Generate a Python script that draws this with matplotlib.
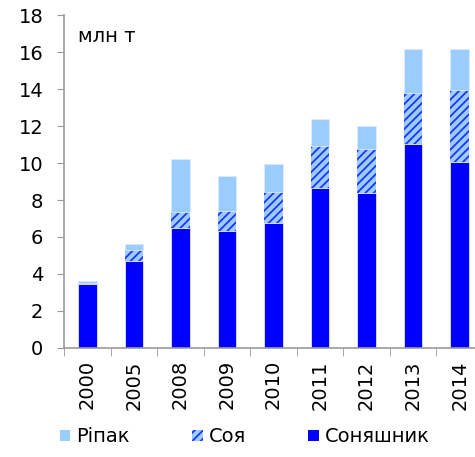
import numpy as np
import matplotlib.pyplot as plt
from matplotlib.patches import Patch

plt.rcParams['font.family'] = ['DejaVu Sans']
plt.rcParams['hatch.color'] = '#2233FF'
plt.rcParams['hatch.linewidth'] = 1.3

years = ['2000', '2005', '2008', '2009', '2010', '2011', '2012', '2013', '2014']
sunflower = [3.43, 4.70, 6.50, 6.34, 6.77, 8.67, 8.36, 11.03, 10.08]
soy = [0.05, 0.59, 0.83, 1.05, 1.68, 2.26, 2.42, 2.78, 3.90]
rapeseed = [0.15, 0.33, 2.87, 1.91, 1.48, 1.46, 1.21, 2.37, 2.22]

c_sun = '#0000FF'
c_rape = '#99CCFF'

fig = plt.figure(figsize=(4.75, 4.57), dpi=100)
ax = fig.add_axes([64 / 475, 1 - 347.7 / 457, 419 / 475, 332.3 / 457])

x = np.arange(len(years))
sun = np.array(sunflower)
so = np.array(soy)
ra = np.array(rapeseed)

w = 0.4
ax.bar(x, sun, w, color=c_sun, edgecolor='#E0E8FF', linewidth=0.6)
ax.bar(x, so, w, bottom=sun, facecolor=c_rape, hatch='////',
       edgecolor='#2233FF', linewidth=0)
ax.bar(x, ra, w, bottom=sun + so, color=c_rape, edgecolor='#E0E8FF', linewidth=0.6)

ax.set_xlim(-0.5, len(years) - 0.5)
ax.set_ylim(0, 18)
ax.set_yticks(np.arange(0, 19, 2))
ax.tick_params(axis='y', labelsize=14, length=5, color='#999999', pad=10)

ax.set_xticks(x)
ax.set_xticklabels(years, rotation=90, fontsize=14)
ax.set_xticks(np.arange(-0.5, len(years), 1), minor=True)
ax.tick_params(axis='x', which='major', length=0, pad=9)
ax.tick_params(axis='x', which='minor', length=6, color='#999999')

for s in ['top', 'right']:
    ax.spines[s].set_visible(False)
for s in ['left', 'bottom']:
    ax.spines[s].set_color('#999999')
    ax.spines[s].set_linewidth(1.2)

ax.text(0.033, 0.935, 'млн т', transform=ax.transAxes, fontsize=14, va='center')

handles = [Patch(facecolor=c_rape, label='Ріпак'),
           Patch(facecolor=c_rape, hatch='////', edgecolor='#2233FF', linewidth=0, label='Соя'),
           Patch(facecolor=c_sun, label='Соняшник')]
fig.legend(handles=handles, loc='center', bbox_to_anchor=(0.515, 0.044), ncol=3,
           frameon=False, fontsize=14, handlelength=0.55, handleheight=0.55,
           handletextpad=0.3, columnspacing=3.2)

fig.savefig('out.png', dpi=100)
